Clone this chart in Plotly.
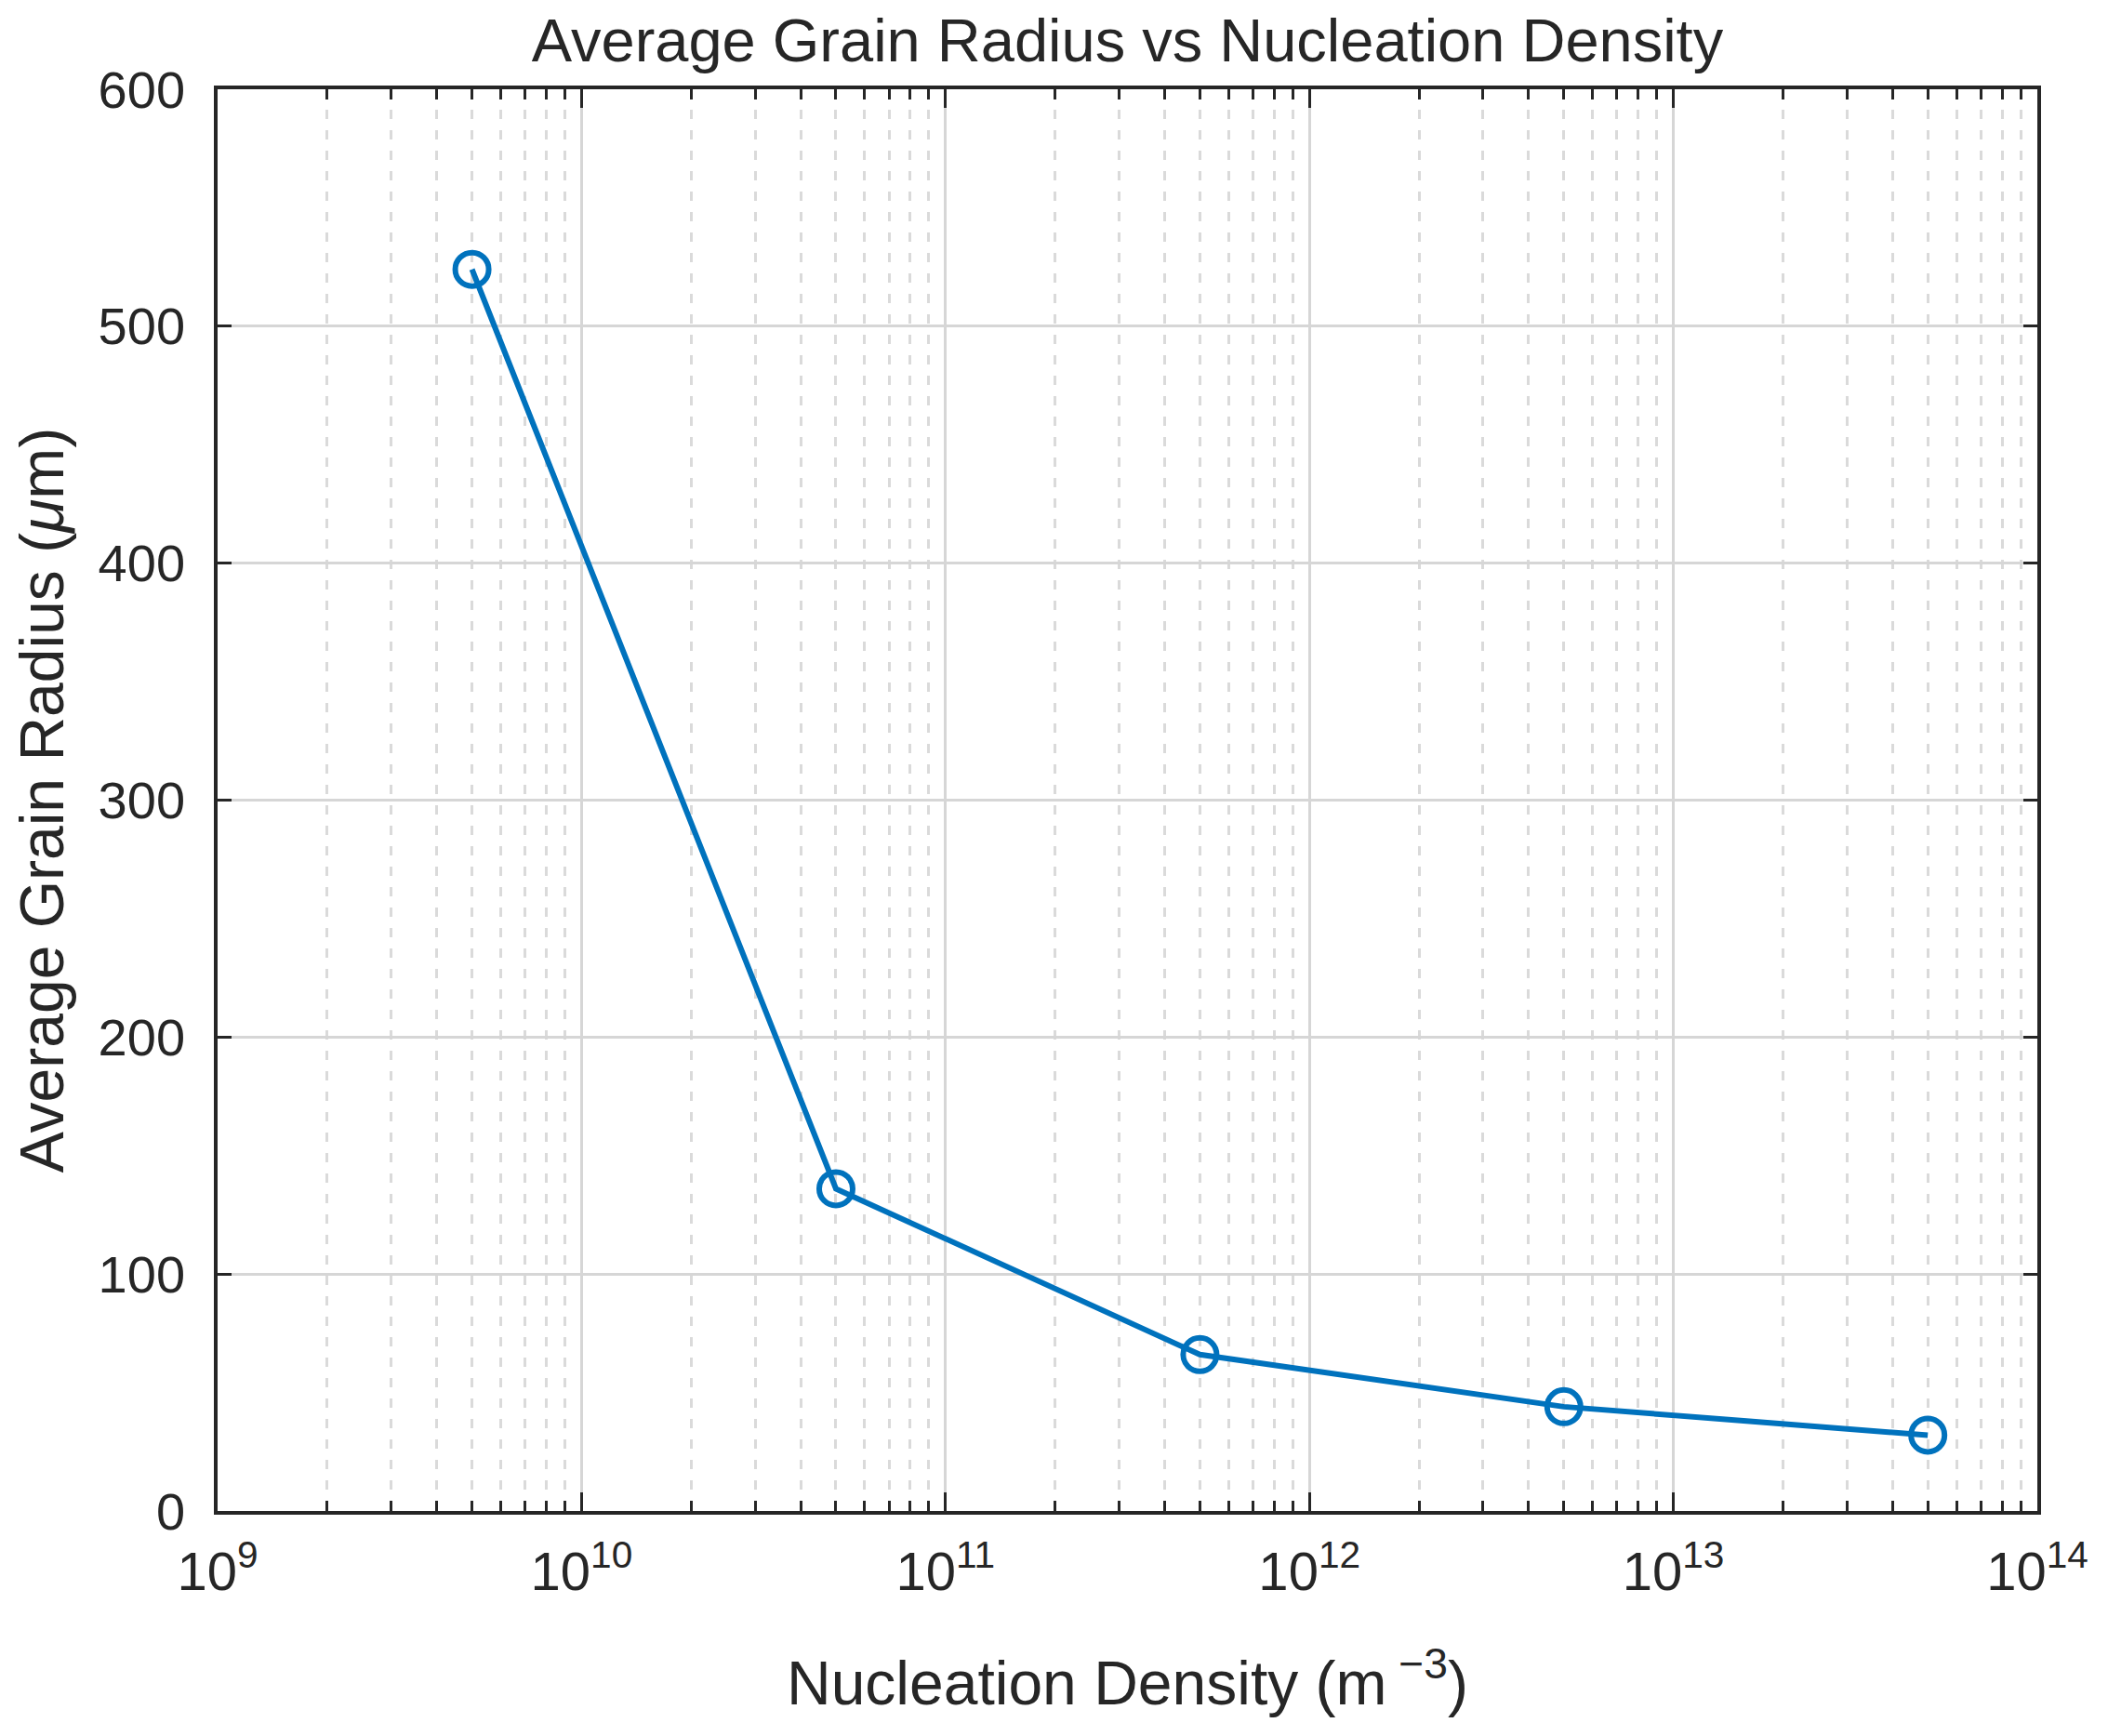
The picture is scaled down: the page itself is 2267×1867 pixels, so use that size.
import plotly.graph_objects as go

# Data
nucleation_density = [5e9, 5e10, 5e11, 5e12, 5e13]
grain_radius = [524, 136, 66, 44, 32]

x_tick_vals = [1e9, 1e10, 1e11, 1e12, 1e13, 1e14]
x_tick_text = ["10<sup>9</sup>", "10<sup>10</sup>", "10<sup>11</sup>",
               "10<sup>12</sup>", "10<sup>13</sup>", "10<sup>14</sup>"]
y_tick_vals = [0, 100, 200, 300, 400, 500, 600]

title_text = "Average Grain Radius vs Nucleation Density"
x_label = "Nucleation Density (m<sup> \u22123</sup>)"
y_label = "Average Grain Radius (<i>\u03bc</i>m)"

TXT = "#262626"
FONT = "Liberation Sans, Arial, sans-serif"
BLUE = "#0072BD"

W, H = 2259, 1859  # page body has an 8px margin

fig = go.Figure()
fig.add_trace(go.Scatter(
    x=nucleation_density, y=grain_radius,
    mode="lines+markers",
    line=dict(color=BLUE, width=6),
    marker=dict(symbol="circle-open", size=36, color=BLUE, line=dict(width=6, color=BLUE)),
    showlegend=False,
))

fig.update_layout(
    width=W, height=H,
    margin=dict(l=226, r=76, t=88, b=242),
    paper_bgcolor="white", plot_bgcolor="white",
    font=dict(family=FONT, color=TXT, size=56),
    title=dict(text=title_text, x=0.5, xanchor="center", xref="paper",
               y=1 - 35 / H, yanchor="middle",
               font=dict(size=65, color=TXT, family=FONT)),
)

fig.update_xaxes(
    type="log", range=[9, 14],
    tickmode="array", tickvals=x_tick_vals, ticktext=x_tick_text,
    ticks="inside", ticklen=20, tickwidth=2.5, tickcolor=TXT,
    ticklabelstandoff=12,
    showline=True, linecolor=TXT, linewidth=3.5, mirror="ticks",
    showgrid=True, gridcolor="#d6d6d6", gridwidth=2.5,
    zeroline=False,
    tickfont=dict(size=58, color=TXT, family=FONT),
    title=dict(text=x_label, font=dict(size=66, color=TXT, family=FONT), standoff=66),
    minor=dict(dtick="D1", ticks="inside", ticklen=11, tickwidth=2.5, tickcolor=TXT,
               showgrid=True, gridcolor="#dadada", gridwidth=2.5, griddash="10px,12px"),
)

fig.update_yaxes(
    range=[0, 600],
    tickmode="array", tickvals=y_tick_vals,
    ticks="inside", ticklen=15, tickwidth=2.5, tickcolor=TXT,
    ticklabelstandoff=20,
    showline=True, linecolor=TXT, linewidth=3.5, mirror="ticks",
    showgrid=True, gridcolor="#d6d6d6", gridwidth=2.5,
    zeroline=False,
    tickfont=dict(size=56, color=TXT, family=FONT),
    title=dict(text=y_label, font=dict(size=66, color=TXT, family=FONT), standoff=20),
)

fig.write_html("out.html")
